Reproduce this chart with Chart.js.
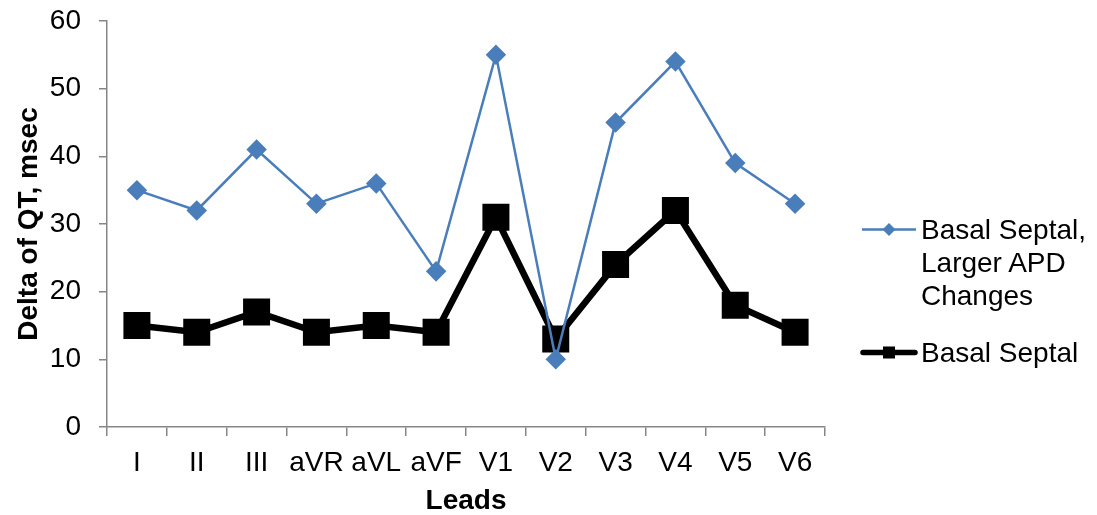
<!DOCTYPE html>
<html>
<head>
<meta charset="utf-8">
<script src="https://cdn.jsdelivr.net/npm/chart.js@4/dist/chart.umd.min.js"></script>
<style>
  html, body { margin: 0; padding: 0; background: #fff; }
  #wrap { position: relative; width: 1097px; height: 515px; font-family: "Liberation Sans", Arial, sans-serif; }
  .legend-item { position: absolute; left: 860px; display: flex; align-items: flex-start; font-size: 28px; color: #000; line-height: 33px; }
  .legend-item svg { flex: none; margin-right: 3px; }
</style>
</head>
<body>
<div id="wrap">
  <canvas id="myChart" width="1097" height="515"></canvas>
  <div class="legend-item" style="top: 213px;">
    <svg width="58" height="33"><line x1="2" y1="16.5" x2="56" y2="16.5" stroke="#4a7ebb" stroke-width="2.5"/><polygon points="29,10 35.5,16.5 29,23 22.5,16.5" fill="#4a7ebb"/></svg>
    <div>Basal Septal,<br>Larger APD<br>Changes</div>
  </div>
  <div class="legend-item" style="top: 336px;">
    <svg width="58" height="33"><line x1="3" y1="16.5" x2="55" y2="16.5" stroke="#000" stroke-width="5.5" stroke-linecap="round"/><rect x="23" y="10.5" width="12" height="12" fill="#000"/></svg>
    <div>Basal Septal</div>
  </div>
</div>
<script>
var leads = ['I', 'II', 'III', 'aVR', 'aVL', 'aVF', 'V1', 'V2', 'V3', 'V4', 'V5', 'V6'];
var largerApd = [35, 32, 41, 33, 36, 23, 55, 10, 45, 54, 39, 33];
var basalSeptal = [15, 14, 17, 14, 15, 14, 31, 13, 24, 32, 18, 14];
var yTicks = [0, 10, 20, 30, 40, 50, 60];

var axisGray = '#868686';
var font = { family: '"Liberation Sans", Arial, sans-serif', size: 28 };

var ctx = document.getElementById('myChart');
new Chart(ctx, {
  type: 'line',
  data: {
    labels: leads,
    datasets: [{
      label: 'Basal Septal, Larger APD Changes',
      data: largerApd,
      borderColor: '#4a7ebb',
      backgroundColor: '#4a7ebb',
      borderWidth: 2.5,
      pointStyle: 'rectRot',
      pointRadius: 8.5,
      pointHoverRadius: 8.5,
      tension: 0
    }, {
      label: 'Basal Septal',
      data: basalSeptal,
      borderColor: '#000',
      backgroundColor: '#000',
      borderWidth: 6.5,
      pointStyle: 'rect',
      pointRadius: 14.5,
      pointHoverRadius: 14.5,
      tension: 0
    }]
  },
  options: {
    responsive: false,
    devicePixelRatio: 1,
    animation: false,
    layout: { padding: { top: 21, right: 272, bottom: 0, left: 0 } },
    plugins: {
      legend: { display: false },
      tooltip: { enabled: false }
    },
    scales: {
      x: {
        offset: true,
        grid: { offset: true, drawOnChartArea: false, drawTicks: true, tickLength: 9, color: axisGray, lineWidth: 1.5 },
        border: { color: axisGray, width: 1.5 },
        ticks: { color: '#000', font: font, padding: 10, maxRotation: 0, autoSkip: false },
        title: { display: true, text: 'Leads', color: '#000', font: { family: font.family, size: 28, weight: 'bold' }, padding: { top: 0, bottom: -3 } },
        afterFit: function (s) { s.height = 88; s.paddingLeft = 0; s.paddingRight = 0; }
      },
      y: {
        min: 0,
        max: 60,
        afterBuildTicks: function (s) { s.ticks = yTicks.map(function (v) { return { value: v }; }); },
        grid: { drawOnChartArea: false, drawTicks: true, tickLength: 8, color: axisGray, lineWidth: 1.5 },
        border: { color: axisGray, width: 1.5 },
        ticks: { color: '#000', font: font, padding: 18 },
        title: { display: true, text: 'Delta of QT, msec', color: '#000', font: { family: font.family, size: 28, weight: 'bold' }, padding: { top: 12, bottom: 0 } },
        afterFit: function (s) { s.width = 107; s.paddingTop = 0; s.paddingBottom = 0; }
      }
    }
  }
});
</script>
</body>
</html>
